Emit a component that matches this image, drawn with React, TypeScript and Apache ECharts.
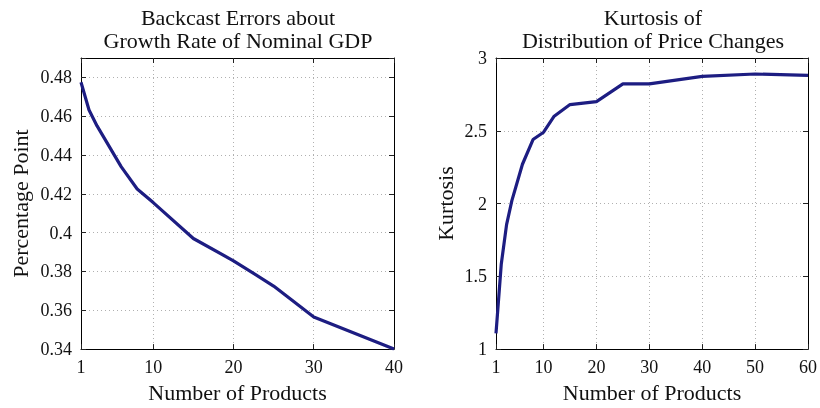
import React, { useEffect, useRef } from "react";
import * as echarts from "echarts";

// Left panel: backcast errors
const leftX = [1, 2, 3, 6, 8, 10, 15, 20, 25, 30, 40];
const leftY = [0.4775, 0.4632, 0.455, 0.434, 0.4225, 0.4155, 0.397, 0.3855, 0.3725, 0.3565, 0.34];
const leftYLabelMax = 0.48;

// Right panel: kurtosis
const rightX = [1, 2, 3, 4, 6, 8, 10, 12, 15, 20, 25, 30, 40, 50, 60];
const rightY = [1.108, 1.585, 1.855, 2.02, 2.27, 2.44, 2.49, 2.6, 2.68, 2.7, 2.822, 2.822, 2.874, 2.89, 2.88];

const titles = ["Backcast Errors about\nGrowth Rate of Nominal GDP", "Kurtosis of\nDistribution of Price Changes"];
const xName = "Number of Products";
const yNames = ["Percentage Point", "Kurtosis"];

const FONT = "Liberation Serif";
const LINE = "#1d1d82";

export default function App() {
  const ref = useRef<HTMLDivElement>(null);
  useEffect(() => {
    const chart = echarts.init(ref.current!, null, { renderer: "svg" });
    const grids = [
      { left: 81, right: 426, top: 58, bottom: 55 },
      { left: 496, right: 9, top: 58, bottom: 55 },
    ];
    const xr = [
      { min: 1, max: 40 },
      { min: 1, max: 60 },
    ];
    const yr = [
      { min: 0.34, max: 0.49, interval: 0.02 },
      { min: 1, max: 3, interval: 0.5 },
    ];
    const fmtY = [
      (v: number) => (v > leftYLabelMax + 0.001 ? "" : String(Number(v.toFixed(2)))),
      (v: number) => String(v),
    ];
    const mkLine = () => ({ show: true, onZero: false, lineStyle: { color: "#000", width: 1 } });
    const mkTick = () => ({ show: true, inside: true, length: 5, lineStyle: { color: "#222" } });
    const mkSplit = () => ({ show: true, lineStyle: { color: "#b0b0b0", type: [1, 3], width: 1 } });
    const xAxis: any[] = [];
    const yAxis: any[] = [];
    [0, 1].forEach((g) => {
      xAxis.push({
        type: "value", gridIndex: g, position: "bottom", min: xr[g].min, max: xr[g].max,
        axisLine: mkLine(), axisTick: mkTick(), splitLine: mkSplit(),
        axisLabel: { fontFamily: FONT, fontSize: 18, color: "#111", margin: 9 },
        name: xName, nameLocation: "middle", nameGap: 31,
        nameTextStyle: { fontFamily: FONT, fontSize: 22, color: "#111" },
      });
      xAxis.push({
        type: "value", gridIndex: g, position: "top", min: xr[g].min, max: xr[g].max,
        axisLine: mkLine(), axisTick: mkTick(), splitLine: { show: false }, axisLabel: { show: false },
      });
      yAxis.push({
        type: "value", gridIndex: g, position: "left", min: yr[g].min, max: yr[g].max, interval: yr[g].interval,
        axisLine: mkLine(), axisTick: mkTick(), splitLine: mkSplit(),
        axisLabel: { formatter: fmtY[g], fontFamily: FONT, fontSize: 18, color: "#111", margin: 9 },
        name: yNames[g], nameLocation: "middle", nameGap: g === 0 ? 50 : 40,
        nameTextStyle: { fontFamily: FONT, fontSize: 22, color: "#111" },
      });
      yAxis.push({
        type: "value", gridIndex: g, position: "right", min: yr[g].min, max: yr[g].max, interval: yr[g].interval,
        axisLine: mkLine(), axisTick: mkTick(), splitLine: { show: false }, axisLabel: { show: false },
      });
    });
    const titleCenters = [238, 653];
    chart.setOption({
      animation: false,
      graphic: titles.map((t, i) => ({
        type: "text", x: titleCenters[i], y: 6,
        style: { text: t, fontFamily: FONT, fontSize: 22, fill: "#111", align: "center", verticalAlign: "top", lineHeight: 23 },
      })),
      grid: grids,
      xAxis,
      yAxis,
      series: [
        {
          type: "line", xAxisIndex: 0, yAxisIndex: 0, showSymbol: false, symbol: "none",
          data: leftX.map((x, i) => [x, leftY[i]]), lineStyle: { color: LINE, width: 3.2 },
        },
        {
          type: "line", xAxisIndex: 2, yAxisIndex: 2, showSymbol: false, symbol: "none",
          data: rightX.map((x, i) => [x, rightY[i]]), lineStyle: { color: LINE, width: 3.2 },
        },
      ],
    });
    return () => chart.dispose();
  }, []);
  return <div ref={ref} style={{ position: "fixed", left: 0, top: 0, width: 820, height: 408 }} />;
}
